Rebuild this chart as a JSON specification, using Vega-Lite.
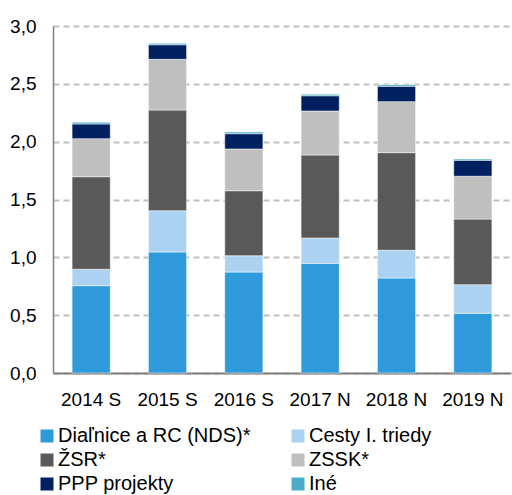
{
  "$schema": "https://vega.github.io/schema/vega-lite/v6.json",
  "autosize": {"type": "none"},
  "padding": {"left": 53, "top": 26, "right": 1, "bottom": 122},
  "width": 458,
  "height": 347,
  "background": "#ffffff",
  "config": {
    "view": {"stroke": null},
    "font": "Liberation Sans",
    "axis": {"labelFont": "Liberation Sans", "labelFontSize": 19, "labelColor": "#000000"}
  },
  "data": {
    "values": [
      {"rok": "2014 S", "kat": "Diaľnice a RC (NDS)*", "k": 1, "v": 0.755},
      {"rok": "2014 S", "kat": "Cesty I. triedy", "k": 2, "v": 0.142},
      {"rok": "2014 S", "kat": "ŽSR*", "k": 3, "v": 0.800},
      {"rok": "2014 S", "kat": "ZSSK*", "k": 4, "v": 0.329},
      {"rok": "2014 S", "kat": "PPP projekty", "k": 5, "v": 0.127},
      {"rok": "2014 S", "kat": "Iné", "k": 6, "v": 0.014},
      {"rok": "2015 S", "kat": "Diaľnice a RC (NDS)*", "k": 1, "v": 1.046},
      {"rok": "2015 S", "kat": "Cesty I. triedy", "k": 2, "v": 0.357},
      {"rok": "2015 S", "kat": "ŽSR*", "k": 3, "v": 0.871},
      {"rok": "2015 S", "kat": "ZSSK*", "k": 4, "v": 0.438},
      {"rok": "2015 S", "kat": "PPP projekty", "k": 5, "v": 0.126},
      {"rok": "2015 S", "kat": "Iné", "k": 6, "v": 0.012},
      {"rok": "2016 S", "kat": "Diaľnice a RC (NDS)*", "k": 1, "v": 0.873},
      {"rok": "2016 S", "kat": "Cesty I. triedy", "k": 2, "v": 0.141},
      {"rok": "2016 S", "kat": "ŽSR*", "k": 3, "v": 0.562},
      {"rok": "2016 S", "kat": "ZSSK*", "k": 4, "v": 0.361},
      {"rok": "2016 S", "kat": "PPP projekty", "k": 5, "v": 0.132},
      {"rok": "2016 S", "kat": "Iné", "k": 6, "v": 0.015},
      {"rok": "2017 N", "kat": "Diaľnice a RC (NDS)*", "k": 1, "v": 0.948},
      {"rok": "2017 N", "kat": "Cesty I. triedy", "k": 2, "v": 0.219},
      {"rok": "2017 N", "kat": "ŽSR*", "k": 3, "v": 0.718},
      {"rok": "2017 N", "kat": "ZSSK*", "k": 4, "v": 0.380},
      {"rok": "2017 N", "kat": "PPP projekty", "k": 5, "v": 0.132},
      {"rok": "2017 N", "kat": "Iné", "k": 6, "v": 0.013},
      {"rok": "2018 N", "kat": "Diaľnice a RC (NDS)*", "k": 1, "v": 0.821},
      {"rok": "2018 N", "kat": "Cesty I. triedy", "k": 2, "v": 0.240},
      {"rok": "2018 N", "kat": "ŽSR*", "k": 3, "v": 0.844},
      {"rok": "2018 N", "kat": "ZSSK*", "k": 4, "v": 0.441},
      {"rok": "2018 N", "kat": "PPP projekty", "k": 5, "v": 0.133},
      {"rok": "2018 N", "kat": "Iné", "k": 6, "v": 0.014},
      {"rok": "2019 N", "kat": "Diaľnice a RC (NDS)*", "k": 1, "v": 0.516},
      {"rok": "2019 N", "kat": "Cesty I. triedy", "k": 2, "v": 0.248},
      {"rok": "2019 N", "kat": "ŽSR*", "k": 3, "v": 0.567},
      {"rok": "2019 N", "kat": "ZSSK*", "k": 4, "v": 0.370},
      {"rok": "2019 N", "kat": "PPP projekty", "k": 5, "v": 0.138},
      {"rok": "2019 N", "kat": "Iné", "k": 6, "v": 0.011}
    ]
  },
  "mark": {"type": "bar", "stroke": "#ffffff", "strokeOpacity": 0.5, "strokeWidth": 1},
  "encoding": {
    "x": {
      "field": "rok", "type": "nominal", "sort": null, "title": null,
      "scale": {"paddingInner": 0.5, "paddingOuter": 0.25},
      "axis": {"labelAngle": 0, "ticks": false, "domainColor": "#808080", "domainWidth": 2, "labelPadding": 17, "grid": false}
    },
    "y": {
      "field": "v", "type": "quantitative", "aggregate": "sum", "stack": "zero", "title": null,
      "scale": {"domain": [0, 3], "nice": false},
      "axis": {
        "values": [0, 0.5, 1, 1.5, 2, 2.5, 3],
        "labelExpr": "replace(format(datum.value, '.1f'), '.', ',')",
        "ticks": false, "domainColor": "#808080", "domainWidth": 1.5, "labelPadding": 17,
        "grid": true, "gridColor": "#BFBFBF", "gridDash": [6, 4], "gridWidth": 2
      }
    },
    "order": {"field": "k", "type": "quantitative", "sort": "ascending"},
    "color": {
      "field": "kat", "type": "nominal", "title": null,
      "sort": ["Diaľnice a RC (NDS)*", "Cesty I. triedy", "ŽSR*", "ZSSK*", "PPP projekty", "Iné"],
      "scale": {
        "domain": ["Diaľnice a RC (NDS)*", "Cesty I. triedy", "ŽSR*", "ZSSK*", "PPP projekty", "Iné"],
        "range": ["#2E9ADB", "#ABD3F1", "#595959", "#BFBFBF", "#002060", "#4BACC6"]
      },
      "legend": {
        "orient": "none", "legendX": -16, "legendY": 400,
        "direction": "horizontal", "columns": 2, "columnPadding": 37, "rowPadding": 4,
        "symbolType": "square", "symbolSize": 169, "symbolStrokeWidth": 0,
        "labelFont": "Liberation Sans", "labelFontSize": 20, "labelColor": "#000000",
        "labelOffset": 1, "labelLimit": 300, "gridAlign": "all"
      }
    }
  }
}
